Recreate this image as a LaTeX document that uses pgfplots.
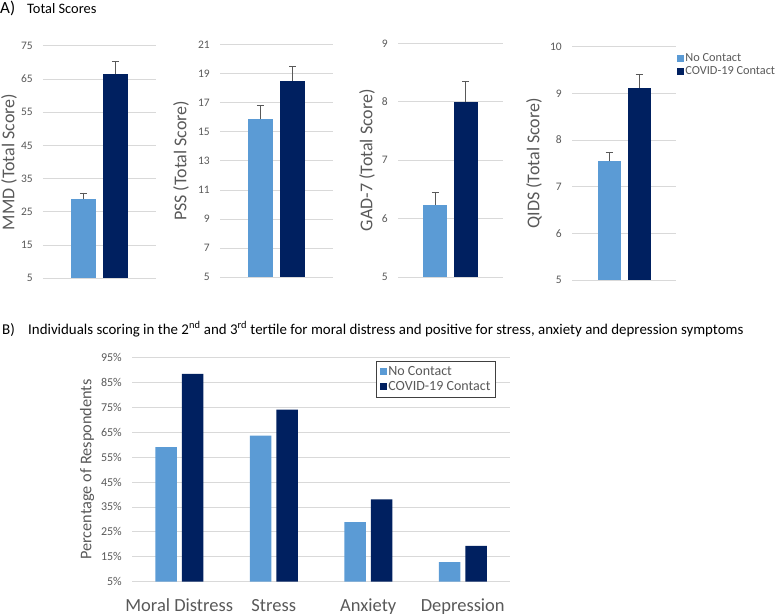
\documentclass[border=0pt]{standalone}
\usepackage{fontspec}
\setmainfont{Carlito}
\usepackage{pgfplots}
\pgfplotsset{compat=1.18}
\definecolor{lb}{HTML}{5B9BD5}
\definecolor{nv}{HTML}{002060}
\definecolor{gr}{HTML}{D9D9D9}
\definecolor{tg}{HTML}{595959}
\definecolor{lg}{HTML}{404040}
\pgfplotsset{
 base/.style={scale only axis, anchor=south west, axis line style={draw=none},
   major tick length=0pt, ymajorgrids, grid style={color=gr, line width=0.8bp},
   /pgf/number format/assume math mode=true,
   yticklabel style={inner sep=0pt, xshift=-10bp, text=tg, font=\fontsize{11.5bp}{13bp}\selectfont},
   clip=false},
 pA/.style={base, xtick=\empty, xmin=-0.5, xmax=0.5, ybar=7bp, bar width=25bp,
   ylabel style={at={(axis description cs:#1,0.5)}, anchor=center, text=tg, font=\fontsize{18bp}{20bp}\selectfont}},
 errs/.style={error bars/.cd, y dir=plus, y explicit,
   error bar style={color=tg, line width=0.8bp},
   error mark options={rotate=90, color=tg, line width=0.8bp, mark size=3.5bp}},
 sq/.style={legend image code/.code={\fill[##1] (0bp,-3.5bp) rectangle (7bp,3.5bp);}},
}
\begin{document}
\begin{tikzpicture}
\path[use as bounding box] (0,0) rectangle (780bp,-615bp);
% titles
\node[anchor=base west, inner sep=0pt] at (0bp,-13bp) {\fontsize{17bp}{20bp}\selectfont A)};
\node[anchor=base west, inner sep=0pt] at (27bp,-13bp) {\fontsize{14.4bp}{17bp}\selectfont Total Scores};
\node[anchor=base west, inner sep=0pt] at (2bp,-334bp) {\fontsize{15bp}{17bp}\selectfont B)};
\node[anchor=base west, inner sep=0pt] at (28bp,-334bp) {\fontsize{14.9bp}{17bp}\selectfont Individuals scoring in the 2\textsuperscript{nd} and 3\textsuperscript{rd} tertile for moral distress and positive for stress, anxiety and depression symptoms};

% MMD
\begin{axis}[pA=-0.301, at={(43bp,-278.3bp)}, width=113bp, height=232.6bp,
  ymin=5, ymax=75, ytick={5,15,...,75}, ylabel={MMD (Total Score)}]
\addplot[fill=lb, draw=none, errs] coordinates {(0,28.8) +- (0,1.9)};
\addplot[fill=nv, draw=none, errs] coordinates {(0,66.4) +- (0,3.9)};
\end{axis}
% PSS
\begin{axis}[pA=-0.345, at={(220bp,-277.3bp)}, width=113bp, height=233bp,
  ymin=5, ymax=21, ytick={5,7,...,21}, ylabel={PSS (Total Score)}]
\addplot[fill=lb, draw=none, errs] coordinates {(0,15.85) +- (0,0.98)};
\addplot[fill=nv, draw=none, errs] coordinates {(0,18.48) +- (0,0.99)};
\end{axis}
% GAD-7
\begin{axis}[pA=-0.295, at={(398bp,-277bp)}, width=105bp, height=233.7bp,
  ymin=5, ymax=9, ytick={5,6,...,9}, ylabel={GAD-7 (Total Score)}, bar width=24bp, ybar=6.5bp]
\addplot[fill=lb, draw=none, errs] coordinates {(0,6.24) +- (0,0.21)};
\addplot[fill=nv, draw=none, errs] coordinates {(0,7.99) +- (0,0.36)};
\end{axis}
% QIDS
\begin{axis}[pA=-0.365, at={(572bp,-280bp)}, width=104bp, height=233.3bp,
  ymin=5, ymax=10, ytick={5,6,...,10}, ylabel={QIDS (Total Score)}, bar width=23bp, ybar=7bp,
  legend style={at={(axis description cs:1.01,0.977)}, anchor=north west, draw=none, fill=none,
    font=\fontsize{12.3bp}{14bp}\selectfont, text=tg, inner sep=0pt, row sep=1bp,
    nodes={inner sep=1.2bp}},
  legend cell align=left]
\addplot[fill=lb, draw=none, sq, errs] coordinates {(0,7.54) +- (0,0.2)};
\addplot[fill=nv, draw=none, sq, errs] coordinates {(0,9.11) +- (0,0.3)};
\legend{No Contact, COVID-19 Contact}
\end{axis}

% Panel B
\begin{axis}[base, at={(132bp,-581.7bp)}, width=378bp, height=224.4bp,
  ymin=5, ymax=95, ytick={5,15,...,95},
  yticklabels={5\%,15\%,25\%,35\%,45\%,55\%,65\%,75\%,85\%,95\%},
  yticklabel style={font=\fontsize{12bp}{14bp}\selectfont},
  xmin=-0.5, xmax=3.5, xtick={0,1,2,3},
  xticklabels={Moral Distress, Stress, Anxiety, Depression},
  xticklabel style={anchor=base, yshift=-30bp, text=tg, font=\fontsize{18.5bp}{20bp}\selectfont},
  ybar=5bp, bar width=21.5bp,
  ylabel={Percentage of Respondents},
  ylabel style={at={(axis description cs:-0.119,0.5)}, anchor=center, text=tg, font=\fontsize{16.3bp}{18bp}\selectfont},
  legend style={at={(axis description cs:0.6455,0.9835)}, anchor=north west, draw=lg, line width=0.8bp,
    fill=white, font=\fontsize{14bp}{15bp}\selectfont, text=tg, inner sep=3.5bp, row sep=1.5bp,
    nodes={inner sep=1.5bp}},
  legend cell align=left]
\addplot[fill=lb, draw=none, sq] coordinates {(0,59.0) (1,63.6) (2,28.9) (3,12.9)};
\addplot[fill=nv, draw=none, sq] coordinates {(0,88.4) (1,74.0) (2,38.0) (3,19.4)};
\legend{No Contact, COVID-19 Contact}
\end{axis}
\end{tikzpicture}
\end{document}
